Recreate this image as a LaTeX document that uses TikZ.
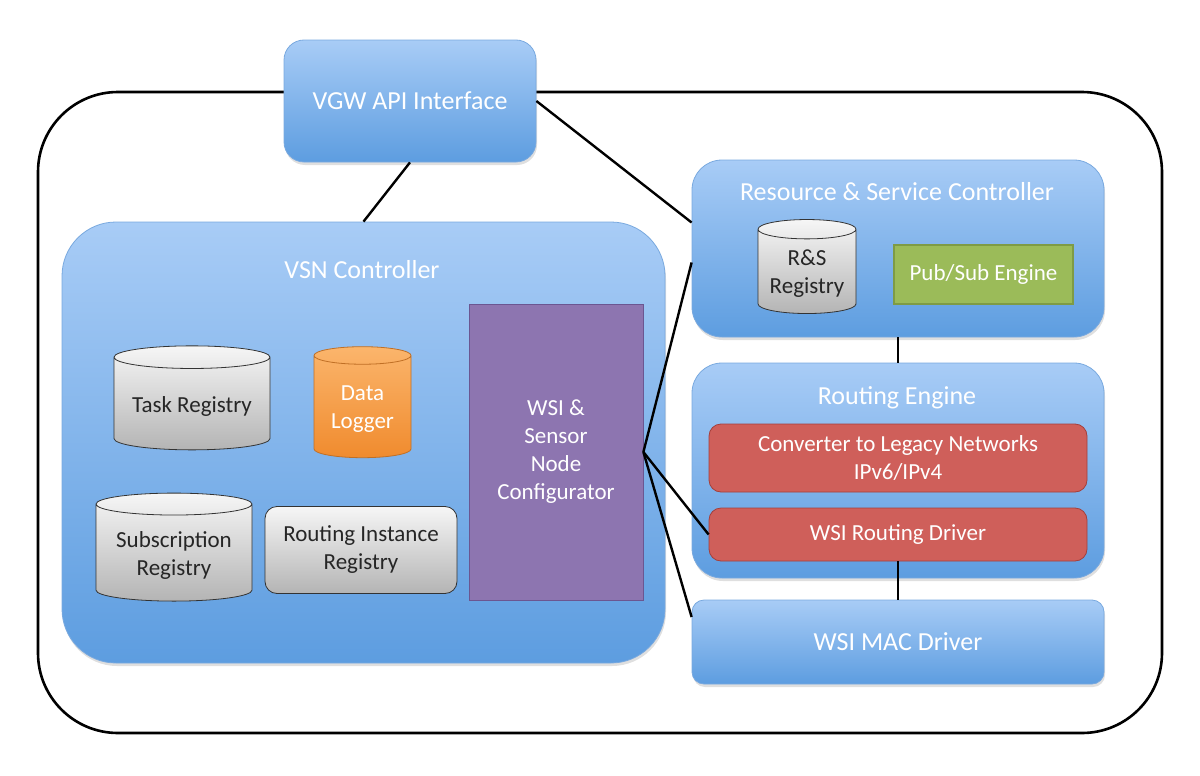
\documentclass[tikz,border=0pt]{standalone}
\usepackage{fontspec}
\setmainfont{Carlito}
\usepackage{xcolor}
\usetikzlibrary{shapes.geometric, shadows}
\definecolor{bluetop}{HTML}{A8CCF6}
\definecolor{bluebot}{HTML}{5D9DE0}
\definecolor{blueline}{HTML}{79A9DF}
\definecolor{purplefill}{HTML}{8D75B0}
\definecolor{purpleline}{HTML}{6B5691}
\definecolor{orangetop}{HTML}{FBB56C}
\definecolor{orangebot}{HTML}{F08B2E}
\definecolor{greenfill}{HTML}{9BBB59}
\definecolor{greenline}{HTML}{7E9B45}
\definecolor{redfill}{HTML}{CF5F5A}
\definecolor{redline}{HTML}{A43F3B}
\definecolor{greytop}{HTML}{F6F6F6}
\definecolor{greybot}{HTML}{B4B4B4}
\newcommand{\boxtitle}{\fontsize{13}{15.5}\selectfont}
\newcommand{\boxtext}{\fontsize{11.5}{14}\selectfont}
\tikzstyle{container} = [rectangle, 
draw=blueline, 
top color=bluetop, 
bottom color=bluebot, 
text=white, 
font=\boxtitle, 
drop shadow={opacity=0.25, shadow xshift=0.5pt, shadow yshift=-1.5pt}]
\tikzstyle{title} = [text=white, font=\boxtitle]
\tikzstyle{registry} = [cylinder, 
shape border rotate=90, 
aspect=0.17, 
draw=black!80, 
top color=greytop, 
bottom color=greybot, 
text=black!85, 
align=center, 
font=\boxtext]
\tikzstyle{module} = [rectangle, 
rounded corners=6pt, 
text=white, 
align=center, 
font=\boxtext]
\tikzstyle{link} = [line width=1.2pt, black]

\begin{document}
\begin{tikzpicture}[x=0.5pt, y=-0.5pt]
\useasboundingbox (0,0) rectangle (1200,776);

% outer frame
\draw [line width=1.3pt, rounded corners=40pt] (38,92) rectangle (1162,733);

\node (vgw) [container, rounded corners=10pt, minimum width=126pt, minimum height=61pt] at (410,101) {VGW API Interface};

% VSN controller and its parts
\node (vsn) [container, rounded corners=27pt, minimum width=301.5pt, minimum height=220.5pt] at (363.5,442.5) {};
\node (vsn_title) [title] at (362,270) {VSN Controller};
\node (task) [registry, minimum width=78pt, minimum height=52pt] at (192,406) {Task Registry};
\node (logger) [registry, aspect=0.23, minimum width=48.5pt, minimum height=55.5pt, draw=orangebot!80!black, top color=orangetop, bottom color=orangebot, text=white] at (362.5,409) {Data\\Logger};
\node (subscr) [registry, minimum width=78pt, minimum height=54pt] at (174,555) {Subscription\\Registry};
\node (rinst) [module, draw=black!80, top color=greytop, bottom color=greybot, text=black!85, minimum width=96pt, minimum height=43.5pt] at (361,550) {Routing Instance\\Registry};
\node (wsi) [rectangle, draw=purpleline, fill=purplefill, text=white, align=center, font=\boxtext, minimum width=87pt, minimum height=148pt] at (556,452) {WSI \&\\Sensor\\Node\\Configurator};

% resource & service controller
\node (rsc) [container, rounded corners=15pt, minimum width=206pt, minimum height=88.5pt] at (898,248.5) {};
\node (rsc_title) [title] at (897,192) {Resource \& Service Controller};
\node (rsreg) [registry, aspect=0.22, minimum width=49pt, minimum height=47pt] at (807,274) {R\&S\\Registry};
\node (pubsub) [rectangle, draw=greenline, line width=0.8pt, fill=greenfill, text=white, font=\boxtext, minimum width=89.5pt, minimum height=29.5pt] at (983.5,274.5) {Pub/Sub Engine};

% routing engine
\node (reng) [container, rounded corners=15pt, minimum width=206pt, minimum height=107.5pt] at (898,470.5) {};
\node (reng_title) [title] at (897,398) {Routing Engine};
\node (conv) [module, draw=redline, fill=redfill, minimum width=189pt, minimum height=34pt] at (898,458) {Converter to Legacy Networks\\IPv6/IPv4};
\node (wsird) [module, draw=redline, fill=redfill, minimum width=189pt, minimum height=26.5pt] at (898,534.5) {WSI Routing Driver};

\node (mac) [container, rounded corners=6pt, minimum width=206pt, minimum height=42pt] at (898,642) {WSI MAC Driver};

\draw [link] (vgw.south) -- (vsn.north);
\draw [link] (vgw.east) -- ([yshift=13pt]rsc.west);
\draw [link] (rsc.south) -- (reng.north);
\draw [link] (wsird.south) -- (mac.north);
\draw [link] (wsi.east) -- ([yshift=-7pt]rsc.west);
\draw [link] (wsi.east) -- (wsird.west);
\draw [link] (wsi.east) -- ([yshift=12.5pt]mac.west);

\end{tikzpicture}
\end{document}
